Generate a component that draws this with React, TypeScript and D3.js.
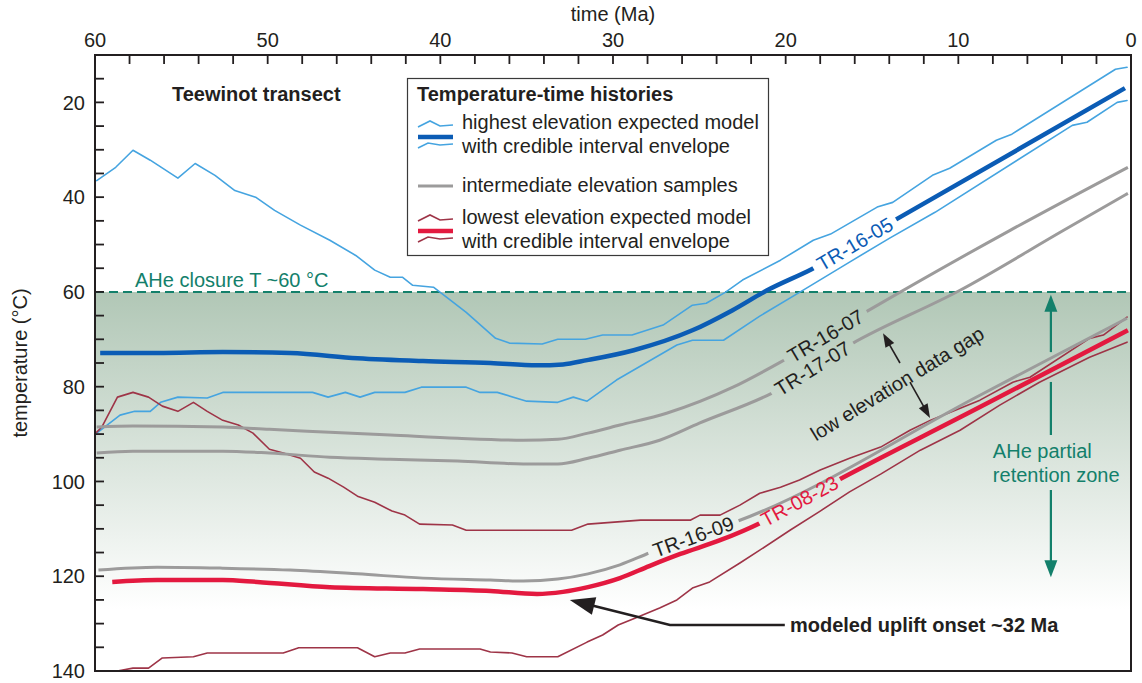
import React from 'react';
import * as d3 from 'd3';

type Pt = [number, number]; // [time (Ma), temperature (°C)]

// ---- thermal histories ----
const highExpected: Pt[] = [
  [59.7, 72.9], [56.4, 72.9], [52.6, 72.7], [48.7, 72.9], [44.8, 74.0], [41.0, 74.6],
  [37.1, 75.0], [34.4, 75.5], [32.9, 75.3], [31.5, 74.4], [28.8, 72.3], [25.4, 68.1],
  [23.1, 63.9], [21.1, 59.7], [18.5, 55.2], [13.6, 44.7], [0.35, 17.0],
];
const highUpper: Pt[] = [
  [59.9, 36.5], [58.8, 33.7], [57.8, 30.1], [56.8, 32.2], [55.2, 36.0], [54.2, 32.9],
  [53.05, 35.4], [51.9, 38.6], [50.7, 40.0], [49.6, 42.8], [48.1, 45.9], [46.4, 49.1],
  [44.9, 52.3], [43.8, 55.4], [42.9, 56.9], [42.2, 56.9], [41.6, 58.6], [40.4, 59.0],
  [39.4, 61.8], [38.5, 64.3], [36.8, 69.8], [36.0, 70.8], [34.1, 71.0], [33.2, 70.0],
  [31.6, 70.0], [30.6, 69.1], [28.9, 69.1], [27.1, 67.0], [25.4, 62.8], [24.6, 62.4],
  [23.5, 60.1], [22.5, 57.5], [20.3, 53.3], [18.4, 49.1], [17.4, 47.8], [14.7, 42.1],
  [13.8, 41.1], [11.5, 35.4], [10.5, 33.9], [7.8, 28.0], [6.9, 26.7], [0.9, 13.0],
  [0.23, 12.6],
];
const highLower: Pt[] = [
  [59.9, 89.8], [58.55, 86.0], [57.7, 85.2], [56.8, 85.2], [56.2, 83.3], [55.2, 82.2],
  [53.5, 82.4], [52.6, 81.2], [47.4, 81.2], [46.5, 82.2], [45.5, 81.2], [44.65, 82.2],
  [43.8, 81.2], [42.05, 81.2], [41.1, 80.1], [38.5, 80.1], [37.7, 81.2], [36.7, 81.2],
  [35.0, 83.05], [33.2, 83.3], [32.3, 82.2], [31.5, 83.05], [29.8, 78.6], [26.3, 71.2],
  [25.4, 70.2], [23.6, 70.2], [21.5, 65.1], [19.2, 60.1], [16.3, 53.7], [14.0, 48.7],
  [11.35, 43.2], [3.4, 24.85], [2.55, 24.2], [0.8, 20.0], [0.23, 19.6],
];
const tr1607: Pt[] = [
  [59.9, 88.5], [57.8, 88.3], [52.6, 88.5], [49.9, 89.0], [46.4, 89.6], [42.9, 90.2],
  [39.0, 90.9], [35.2, 91.3], [33.2, 91.1], [31.45, 89.8], [29.6, 88.1], [26.9, 85.6],
  [23.05, 80.1], [19.9, 74.0], [15.2, 63.9], [7.0, 47.0], [0.18, 33.7],
];
const tr1707: Pt[] = [
  [59.9, 94.0], [57.8, 93.6], [52.6, 93.6], [49.9, 94.0], [46.4, 94.9], [42.9, 95.3],
  [39.0, 95.7], [35.2, 96.3], [33.2, 96.3], [31.45, 95.1], [29.6, 93.4], [27.3, 91.3],
  [25.0, 87.7], [20.7, 81.2], [16.1, 70.8], [9.9, 59.65], [3.9, 47.0], [0.18, 39.2],
];
const tr1609: Pt[] = [
  [59.8, 118.7], [56.4, 118.1], [52.6, 118.3], [48.7, 118.7], [44.8, 119.5], [41.0, 120.4],
  [37.1, 120.8], [35.2, 121.0], [33.2, 120.6], [31.45, 119.5], [29.6, 117.6], [27.9, 115.1],
  [25.25, 111.5], [22.8, 108.4], [8.75, 81.8], [0.23, 65.55],
];
const lowExpected: Pt[] = [
  [59.0, 121.2], [56.4, 120.8], [52.6, 120.8], [50.6, 121.2], [46.4, 122.3], [41.0, 122.7],
  [37.1, 123.1], [34.4, 123.75], [32.9, 123.3], [31.45, 122.3], [29.6, 120.4], [27.9, 117.85],
  [26.1, 115.3], [23.8, 112.4], [21.5, 108.8], [19.2, 104.1], [8.75, 84.3], [0.18, 68.1],
];
const lowUpper: Pt[] = [
  [59.9, 89.6], [59.6, 88.5], [58.7, 82.2], [57.8, 81.2], [56.9, 82.2], [56.1, 84.1],
  [55.2, 85.2], [54.3, 83.3], [53.5, 85.2], [52.6, 87.1], [51.7, 88.1], [50.85, 89.8],
  [49.9, 93.2], [49.1, 94.0], [48.1, 95.1], [47.3, 98.0], [46.5, 99.3], [45.6, 101.2],
  [44.8, 103.1], [43.8, 104.4], [42.8, 106.25], [42.05, 107.1], [41.2, 109.0], [39.3, 109.2],
  [38.5, 110.3], [32.4, 110.3], [31.45, 109.0], [28.4, 108.15], [25.5, 108.15], [24.96, 107.1],
  [23.8, 107.1], [22.65, 105.0], [21.5, 102.5], [20.3, 101.2], [19.2, 99.7], [18.0, 97.6],
  [16.3, 95.1], [14.5, 92.75], [12.8, 89.2], [11.6, 87.06], [8.75, 82.84], [6.84, 79.05],
  [5.85, 78.0], [2.4, 69.8], [1.6, 69.1], [0.23, 65.3],
];
const lowLower: Pt[] = [
  [59.0, 140.2], [58.4, 139.8], [57.8, 139.4], [56.9, 139.4], [56.1, 137.25], [54.3, 137.0],
  [53.5, 136.2], [49.1, 136.2], [48.2, 135.1], [44.8, 135.1], [43.8, 137.0], [42.9, 136.2],
  [42.05, 136.2], [41.2, 135.35], [37.7, 135.35], [37.1, 136.0], [35.85, 136.2], [35.0, 137.0],
  [33.2, 137.0], [31.5, 133.9], [30.6, 132.4], [29.7, 130.3], [28.7, 128.8], [27.3, 126.7],
  [26.3, 125.0], [25.4, 122.5], [24.4, 121.2], [22.65, 117.2], [21.5, 114.5], [19.75, 110.3],
  [18.0, 106.25], [16.3, 102.2], [14.5, 98.45], [12.2, 93.4], [9.9, 89.2], [7.6, 83.9],
  [5.3, 79.05], [2.4, 73.8], [0.23, 70.6],
];

// ---- axes ----
const timeLabels = [60, 50, 40, 30, 20, 10, 0];
const timeMinor = d3.range(0, 61, 2);
const tempLabels = [20, 40, 60, 80, 100, 120, 140];
const tempMinor = d3.range(15, 140, 5);
const closureT = 60;

// in-line sample names: [name, time of label centre, length of line break]
const sampleNames: { name: string; series: Pt[]; t: number; gap: number; color: string }[] = [
  { name: 'TR-16-05', series: highExpected, t: 16.0, gap: 96, color: '#0b5cb5' },
  { name: 'TR-16-07', series: tr1607, t: 17.7, gap: 96, color: '#231f20' },
  { name: 'TR-17-07', series: tr1707, t: 18.45, gap: 96, color: '#231f20' },
  { name: 'TR-16-09', series: tr1609, t: 25.35, gap: 96, color: '#231f20' },
  { name: 'TR-08-23', series: lowExpected, t: 19.2, gap: 92, color: '#e3193f' },
];

const W = 1142;
const H = 683;
const M = { left: 95, top: 55, right: 11, bottom: 12 };

const x = d3.scaleLinear().domain([60, 0]).range([M.left, W - M.right]);
const y = d3.scaleLinear().domain([10, 140]).range([M.top, H - M.bottom]);

const FONT = '"Liberation Sans", Arial, Helvetica, sans-serif';
const INK = '#231f20';
const BLUE = '#0b5cb5';
const LIGHT_BLUE = '#45a4e0';
const GREY = '#9c9b9b';
const RED = '#e3193f';
const DARK_RED = '#9e3447';
const TEAL = '#13806b';

const smooth = d3.line<Pt>().x((d) => x(d[0])).y((d) => y(d[1])).curve(d3.curveMonotoneX);
const jagged = d3.line<Pt>().x((d) => x(d[0])).y((d) => y(d[1]));

function tempAt(series: Pt[], t: number) {
  return d3.scaleLinear().domain(series.map((d) => d[0])).range(series.map((d) => d[1]))(t);
}

function labelPose(series: Pt[], t: number) {
  const px = x(t);
  const py = y(tempAt(series, t));
  const ax = x(t + 1), ay = y(tempAt(series, t + 1));
  const bx = x(t - 1), by = y(tempAt(series, t - 1));
  const angle = (Math.atan2(by - ay, bx - ax) * 180) / Math.PI;
  return { px, py, angle };
}

function head(tip: [number, number], from: [number, number], len: number, half: number) {
  const dx = tip[0] - from[0];
  const dy = tip[1] - from[1];
  const L = Math.hypot(dx, dy);
  const ux = dx / L, uy = dy / L;
  const bx = tip[0] - ux * len, by = tip[1] - uy * len;
  return `M${tip[0]},${tip[1]}L${bx - uy * half},${by + ux * half}L${bx + uy * half},${by - ux * half}Z`;
}

function base(tip: [number, number], from: [number, number], len: number): [number, number] {
  const dx = tip[0] - from[0];
  const dy = tip[1] - from[1];
  const L = Math.hypot(dx, dy);
  return [tip[0] - (dx / L) * len, tip[1] - (dy / L) * len];
}

export default function App() {
  const plotW = x(0) - x(60);
  const plotH = y(140) - y(10);

  const poses = sampleNames.map((s) => ({ ...s, ...labelPose(s.series, s.t) }));
  const maskFor = (series: Pt[]) => {
    const i = poses.findIndex((p) => p.series === series);
    return i < 0 ? undefined : `url(#gap-${i})`;
  };

  // partial retention zone arrow (time, temperature)
  const przT = 4.64;
  const przSegs: [number, number][] = [[60.6, 72.7], [79.0, 90.2], [101.8, 120.2]];
  const przTop: [number, number] = [x(przT), y(przSegs[0][0])];
  const przBot: [number, number] = [x(przT), y(przSegs[2][1])];

  // uplift onset arrow
  const upTip: [number, number] = [x(32.5), y(125.0)];
  const upKnee: [number, number] = [x(26.7), y(130.3)];
  const upEnd: [number, number] = [x(20.05), y(130.3)];

  // data gap arrow
  const gapTop: [number, number] = [x(14.36), y(68.7)];
  const gapBot: [number, number] = [x(11.64), y(86.6)];
  const gapBreakA: [number, number] = [x(13.38), y(75.0)];
  const gapBreakB: [number, number] = [x(12.8), y(79.05)];

  const legendZigUp: [number, number][] = [[0, 3], [12, -3], [22, 2], [35, 1]];
  const legendZigDown: [number, number][] = [[0, 3], [10, -2], [22, 0], [35, -1]];
  const zig = (x0: number, y0: number, pts: [number, number][]) =>
    'M' + pts.map(([dx, dy]) => `${x0 + dx},${y0 + dy}`).join('L');

  return (
    <svg width={W} height={H} style={{ position: 'absolute', left: 0, top: 0, background: '#fff' }} fontFamily={FONT}>
      <defs>
        <clipPath id="plot">
          <rect x={x(60)} y={y(10)} width={plotW} height={plotH} />
        </clipPath>
        <linearGradient id="prz" gradientUnits="userSpaceOnUse" x1={0} y1={y(closureT)} x2={0} y2={y(127)}>
          <stop offset="0" stopColor="#b1c7b6" />
          <stop offset="1" stopColor="#ffffff" />
        </linearGradient>
        {poses.map((p, i) => (
          <mask id={`gap-${i}`} key={p.name} maskUnits="userSpaceOnUse" x={0} y={0} width={W} height={H}>
            <rect x={0} y={0} width={W} height={H} fill="white" />
            <rect
              x={-p.gap / 2}
              y={-12}
              width={p.gap}
              height={24}
              fill="black"
              transform={`translate(${p.px},${p.py}) rotate(${p.angle})`}
            />
          </mask>
        ))}
      </defs>

      {/* AHe partial retention zone shading */}
      <rect x={x(60)} y={y(closureT)} width={plotW} height={y(140) - y(closureT)} fill="url(#prz)" />
      <line x1={x(60)} x2={x(0)} y1={y(closureT)} y2={y(closureT)} stroke={TEAL} strokeWidth={2} strokeDasharray="9,5" />
      <text x={135} y={y(closureT) - 5} fontSize={20} fill={TEAL}>AHe closure T ~60 °C</text>

      {/* PRZ double arrow */}
      <g stroke={TEAL} strokeWidth={2.2}>
        {przSegs.map(([a, b], i) => {
          let y1 = y(a), y2 = y(b);
          if (i === 0) y1 += 14;
          if (i === przSegs.length - 1) y2 -= 14;
          return <line key={i} x1={x(przT)} x2={x(przT)} y1={y1} y2={y2} />;
        })}
      </g>
      <path d={head(przTop, [przTop[0], przTop[1] + 50], 17, 6.5)} fill={TEAL} />
      <path d={head(przBot, [przBot[0], przBot[1] - 50], 17, 6.5)} fill={TEAL} />
      <text x={x(8.0)} y={y(95.1)} fontSize={20} fill={TEAL}>AHe partial</text>
      <text x={x(8.0)} y={y(100.15)} fontSize={20} fill={TEAL}>retention zone</text>

      {/* temperature histories */}
      <g clipPath="url(#plot)" fill="none" strokeLinejoin="round" strokeLinecap="round">
        <path d={jagged(highUpper)!} stroke={LIGHT_BLUE} strokeWidth={1.6} />
        <path d={jagged(highLower)!} stroke={LIGHT_BLUE} strokeWidth={1.6} />
        <path d={jagged(lowUpper)!} stroke={DARK_RED} strokeWidth={1.6} />
        <path d={jagged(lowLower)!} stroke={DARK_RED} strokeWidth={1.6} />
        <path d={smooth(tr1607)!} stroke={GREY} strokeWidth={3} mask={maskFor(tr1607)} strokeLinecap="butt" />
        <path d={smooth(tr1707)!} stroke={GREY} strokeWidth={3} mask={maskFor(tr1707)} strokeLinecap="butt" />
        <path d={smooth(tr1609)!} stroke={GREY} strokeWidth={3} mask={maskFor(tr1609)} strokeLinecap="butt" />
        <path d={smooth(lowExpected)!} stroke={RED} strokeWidth={4.5} mask={maskFor(lowExpected)} strokeLinecap="butt" />
        <path d={smooth(highExpected)!} stroke={BLUE} strokeWidth={4.5} mask={maskFor(highExpected)} strokeLinecap="butt" />
      </g>

      {poses.map((p) => (
        <text
          key={p.name}
          transform={`translate(${p.px},${p.py}) rotate(${p.angle})`}
          textAnchor="middle"
          dy="0.36em"
          fontSize={20}
          fill={p.color}
        >
          {p.name}
        </text>
      ))}

      {/* low elevation data gap */}
      <g stroke={INK} strokeWidth={1.6}>
        <line x1={base(gapTop, gapBot, 12)[0]} y1={base(gapTop, gapBot, 12)[1]} x2={gapBreakA[0]} y2={gapBreakA[1]} />
        <line x1={gapBreakB[0]} y1={gapBreakB[1]} x2={base(gapBot, gapTop, 12)[0]} y2={base(gapBot, gapTop, 12)[1]} />
      </g>
      <path d={head(gapTop, gapBot, 14, 5)} fill={INK} />
      <path d={head(gapBot, gapTop, 14, 5)} fill={INK} />
      <text
        transform={`translate(${x(13.55)},${y(79.3)}) rotate(-31.5)`}
        textAnchor="middle"
        dy="0.36em"
        fontSize={20}
        fill={INK}
      >
        low elevation data gap
      </text>

      {/* uplift onset */}
      <path
        d={`M${upEnd[0]},${upEnd[1]}L${upKnee[0]},${upKnee[1]}L${base(upTip, upKnee, 20)[0]},${base(upTip, upKnee, 20)[1]}`}
        fill="none"
        stroke={INK}
        strokeWidth={2.6}
      />
      <path d={head(upTip, upKnee, 25, 9)} fill={INK} />
      <text x={x(19.75)} y={y(131.8)} fontSize={20} fontWeight="bold" fill={INK}>
        modeled uplift onset ~32 Ma
      </text>

      <text x={172} y={101} fontSize={20} fontWeight="bold" fill={INK}>Teewinot transect</text>

      {/* legend */}
      <g>
        <rect x={407.5} y={78.5} width={361} height={177} fill="#fff" stroke="#3a3a3a" strokeWidth={1.2} />
        <text x={417} y={101} fontSize={20} fontWeight="bold" fill={INK}>Temperature-time histories</text>
        <path d={zig(418, 124, legendZigUp)} fill="none" stroke={LIGHT_BLUE} strokeWidth={1.6} />
        <line x1={418} x2={453} y1={137} y2={137} stroke={BLUE} strokeWidth={4.5} />
        <path d={zig(418, 145, legendZigDown)} fill="none" stroke={LIGHT_BLUE} strokeWidth={1.6} />
        <text x={462} y={129} fontSize={20} fill={INK}>highest elevation expected model</text>
        <text x={462} y={153} fontSize={20} fill={INK}>with credible interval envelope</text>
        <line x1={418} x2={453} y1={186} y2={186} stroke={GREY} strokeWidth={3} />
        <text x={462} y={192} fontSize={20} fill={INK}>intermediate elevation samples</text>
        <path d={zig(418, 218, legendZigUp)} fill="none" stroke={DARK_RED} strokeWidth={1.6} />
        <line x1={418} x2={453} y1={231} y2={231} stroke={RED} strokeWidth={4.5} />
        <path d={zig(418, 239, legendZigDown)} fill="none" stroke={DARK_RED} strokeWidth={1.6} />
        <text x={462} y={224} fontSize={20} fill={INK}>lowest elevation expected model</text>
        <text x={462} y={248} fontSize={20} fill={INK}>with credible interval envelope</text>
      </g>

      {/* frame and axes */}
      <rect x={x(60)} y={y(10)} width={plotW} height={plotH} fill="none" stroke={INK} strokeWidth={2} />
      <g stroke={INK} strokeWidth={1.8}>
        {timeMinor.map((t) => (
          <line key={t} x1={x(t)} x2={x(t)} y1={y(10)} y2={y(10) + 9} />
        ))}
        {tempMinor.map((v) => (
          <line key={v} x1={x(60)} x2={x(60) + 9} y1={y(v)} y2={y(v)} />
        ))}
      </g>
      {timeLabels.map((t) => (
        <text key={t} x={x(t)} y={47} textAnchor="middle" fontSize={20} fill={INK}>{t}</text>
      ))}
      {tempLabels.map((v) => (
        <text key={v} x={x(60) - 10} y={y(v)} dy="0.36em" textAnchor="end" fontSize={20} fill={INK}>{v}</text>
      ))}
      <text x={(x(60) + x(0)) / 2} y={21} textAnchor="middle" fontSize={20} fill={INK}>time (Ma)</text>
      <text
        transform={`translate(27,${(y(10) + y(140)) / 2}) rotate(-90)`}
        textAnchor="middle"
        fontSize={20}
        fill={INK}
      >
        temperature (°C)
      </text>
    </svg>
  );
}
